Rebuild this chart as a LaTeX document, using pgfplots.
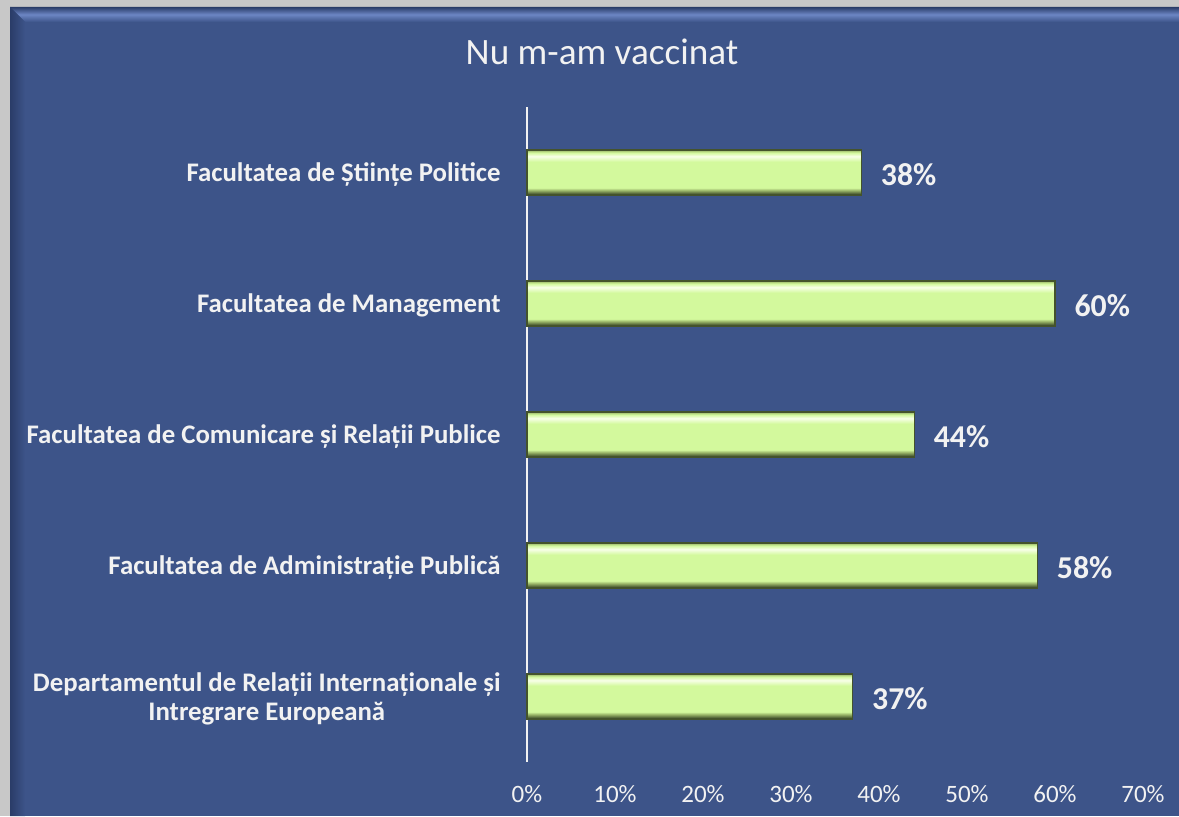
\documentclass[border=0pt]{standalone}
\usepackage{fontspec}
\setmainfont{Carlito}
\usepackage{pgfplots}
\pgfplotsset{compat=1.18}
\definecolor{bgblue}{HTML}{3D5489}
\definecolor{bggray}{HTML}{C8C8C8}
\definecolor{hiblue}{HTML}{6C86C4}
\definecolor{dkblue}{HTML}{2A3C68}
\definecolor{txt}{HTML}{F2F2F2}
\definecolor{gmain}{HTML}{D3F99D}
\definecolor{glight}{HTML}{F8FFE8}
\definecolor{gdark}{HTML}{56693A}
\definecolor{gdark2}{HTML}{97B266}
\definecolor{gedge}{HTML}{44532C}
\pgfdeclareverticalshading{bevel}{100bp}{color(0bp)=(gdark); color(25bp)=(gdark); color(27bp)=(gdark); color(30bp)=(gdark2); color(33bp)=(gmain); color(62bp)=(gmain); color(68bp)=(glight); color(72bp)=(gmain); color(75bp)=(gdark2); color(100bp)=(gdark2)}
\pgfplotsset{barstyle/.style={shading=bevel, draw=gedge, line width=0.6pt}}
\begin{document}
\begin{tikzpicture}[x=0.5pt,y=0.5pt]
\path[use as bounding box] (0,0) rectangle (1179,816);
\fill[bggray] (0,0) rectangle (1179,816);
\fill[bgblue] (10,0) rectangle (1179,809);
% bevel of the frame
\shade[top color=dkblue, bottom color=bgblue, middle color=hiblue] (10,809) -- (1179,809) -- (1179,794) -- (25,794) -- cycle;
\shade[left color=dkblue, right color=bgblue] (10,809) -- (25,794) -- (25,0) -- (10,0) -- cycle;
\node[text=txt, font=\fontsize{18.6}{21}\selectfont] at (602,764) {Nu m-am vaccinat};
\begin{axis}[
  at={(263.5pt,27pt)}, anchor=south west,
  scale only axis, width=308pt, height=327.5pt,
  xmin=0, xmax=70, ymin=-0.5, ymax=4.5,
  axis lines*=left,
  x axis line style={draw=none},
  y axis line style={draw=txt, line width=1pt},
  major tick length=0pt,
  xtick={0,10,...,70},
  xticklabels={0\%,10\%,20\%,30\%,40\%,50\%,60\%,70\%},
  xticklabel style={text=txt, font=\fontsize{12.5}{14}\selectfont, anchor=base, inner sep=0pt, yshift=-20pt},
  ytick={0,1,2,3,4},
  yticklabels={{Departamentul de Relații Internaționale și\\Intregrare Europeană},
    {Facultatea de Administrație Publică},
    {Facultatea de Comunicare și Relații Publice},
    {Facultatea de Management},
    {Facultatea de Științe Politice}},
  yticklabel style={text=txt, font=\fontsize{13.4}{14.5}\selectfont\bfseries, align=center, anchor=east, inner sep=0pt, xshift=-13pt, yshift=-1pt},
  xbar, bar width=22.5pt, bar shift=0pt,
  point meta=x,
  nodes near coords={\pgfmathprintnumber[assume math mode=true]{\pgfplotspointmeta}\%},
  nodes near coords style={text=txt, font=\fontsize{15.9}{18}\selectfont\bfseries, anchor=west, inner sep=0pt, xshift=9.5pt, yshift=-1pt},
  clip=false,
]
\addplot[barstyle] coordinates {(37,0)};
\addplot[barstyle] coordinates {(58,1)};
\addplot[barstyle] coordinates {(44,2)};
\addplot[barstyle] coordinates {(60,3)};
\addplot[barstyle] coordinates {(38,4)};
\end{axis}
\end{tikzpicture}
\end{document}
